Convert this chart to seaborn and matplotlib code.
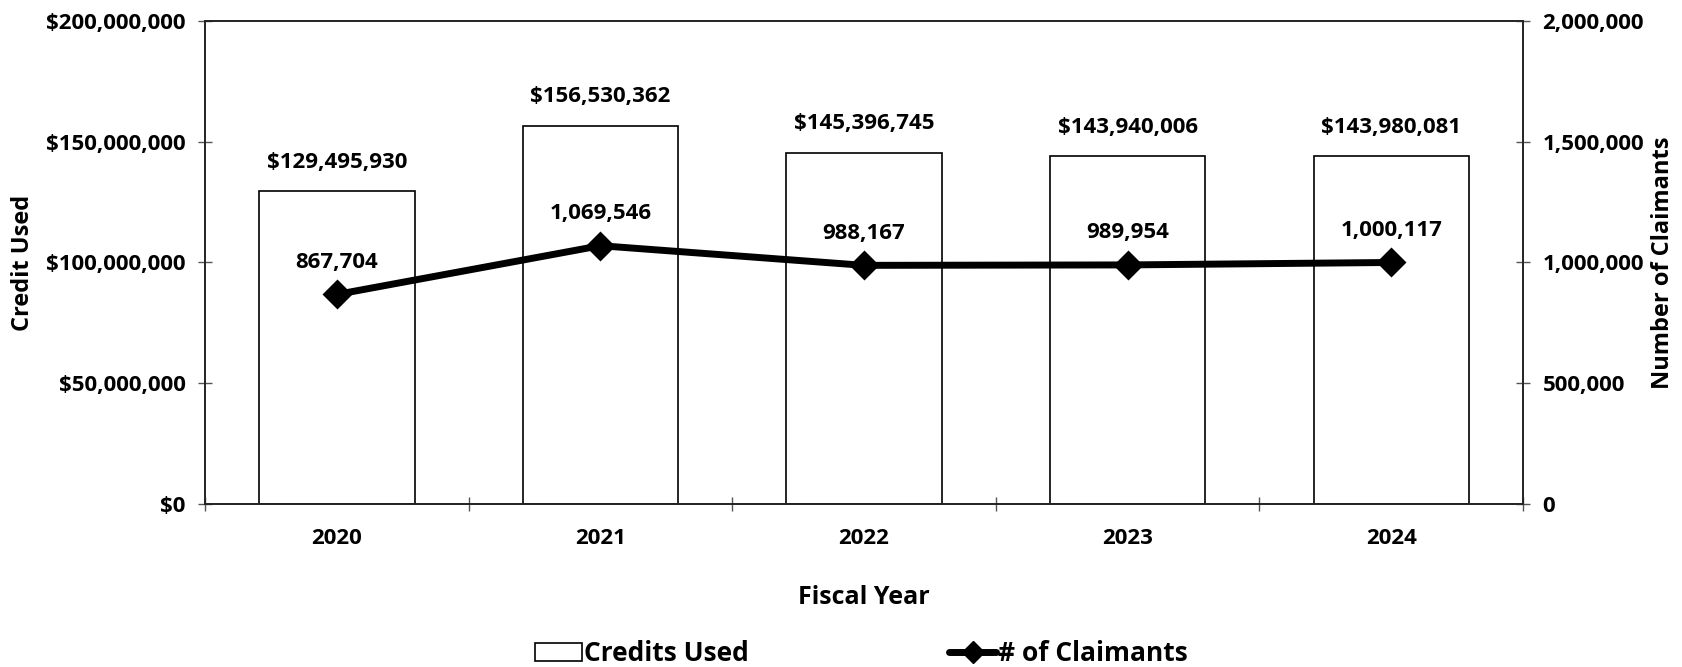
import matplotlib
matplotlib.use("Agg")
import matplotlib.pyplot as plt
import matplotlib.ticker as mticker
from matplotlib.patches import Patch
from matplotlib.lines import Line2D
import seaborn as sns
import pandas as pd

# Fiscal-year totals
years = ["2020", "2021", "2022", "2023", "2024"]
credits_used = [129495930, 156530362, 145396745, 143940006, 143980081]
claimants = [867704, 1069546, 988167, 989954, 1000117]

sns.set_theme(style="white")
plt.rcParams["font.family"] = ["Open Sans", "DejaVu Sans"]
plt.rcParams["font.weight"] = "bold"
plt.rcParams["axes.labelweight"] = "bold"
plt.rcParams["text.color"] = "black"
plt.rcParams["axes.labelcolor"] = "black"

df = pd.DataFrame({"year": years, "credits": credits_used, "claimants": claimants})

fig = plt.figure(figsize=(16.83, 6.67), dpi=100)
ax = fig.add_axes([0.1218, 0.2444, 0.7832, 0.7241])

sns.barplot(data=df, x="year", y="credits", ax=ax, color="white",
            edgecolor="black", linewidth=1.2, width=0.59, saturation=1)

ax2 = ax.twinx()
sns.pointplot(data=df, x="year", y="claimants", ax=ax2, color="black",
              markers="D", linestyles="-", errorbar=None)
for ln in ax2.lines:
    ln.set_linewidth(5)
    ln.set_markersize(13)

ax.set_ylim(0, 200_000_000)
ax2.set_ylim(0, 2_000_000)
ax.set_xlim(-0.5, 4.5)
ax.yaxis.set_major_locator(mticker.MultipleLocator(50_000_000))
ax2.yaxis.set_major_locator(mticker.MultipleLocator(500_000))
ax.yaxis.set_major_formatter(mticker.FuncFormatter(lambda v, p: f"${v:,.0f}"))
ax2.yaxis.set_major_formatter(mticker.FuncFormatter(lambda v, p: f"{v:,.0f}"))

TICK_FS = 16

# category ticks: labels centred, marks on the boundaries
ax.set_xticks(range(len(years)))
ax.set_xticklabels(years)
ax.set_xticks([i - 0.5 for i in range(len(years) + 1)], minor=True)
ax.tick_params(axis="x", which="major", length=0, pad=17, labelsize=TICK_FS,
               labelcolor="black")
ax.tick_params(axis="x", which="minor", length=10, direction="inout",
               width=1, color="#555555", bottom=True)
ax.tick_params(axis="y", length=10, direction="inout", width=1,
               color="#555555", pad=9, labelsize=TICK_FS, left=True,
               labelcolor="black")
ax2.tick_params(axis="y", length=10, direction="inout", width=1,
                color="#555555", pad=9, labelsize=TICK_FS, right=True,
                labelcolor="black")

for a in (ax, ax2):
    for sp in a.spines.values():
        sp.set_color("#222222")
        sp.set_linewidth(1.2)
        sp.set_visible(True)

ax.set_xlabel("Fiscal Year", fontsize=18, fontweight="bold", labelpad=26)
ax.set_ylabel("Credit Used", fontsize=17, fontweight="bold", labelpad=8)
ax2.set_ylabel("Number of Claimants", fontsize=17, fontweight="bold",
               labelpad=5)

for i, v in enumerate(credits_used):
    ax.annotate(f"${v:,.0f}", (i, v), xytext=(0, 21), textcoords="offset points",
                ha="center", va="center", fontsize=TICK_FS, fontweight="bold")
for i, v in enumerate(claimants):
    ax2.annotate(f"{v:,.0f}", (i, v), xytext=(0, 23), textcoords="offset points",
                 ha="center", va="center", fontsize=TICK_FS, fontweight="bold")

handles = [
    Patch(facecolor="white", edgecolor="black", linewidth=1.2, label="Credits Used"),
    Line2D([0], [0], color="black", lw=5, marker="D", markersize=11,
           label="# of Claimants"),
]
fig.legend(handles=handles, loc="center", bbox_to_anchor=(0.512, 0.02),
           ncol=2, frameon=False, prop={"size": 19, "weight": "bold"},
           handlelength=1.75, handletextpad=0.1, columnspacing=7.6)

fig.savefig("out.png", dpi=100)
